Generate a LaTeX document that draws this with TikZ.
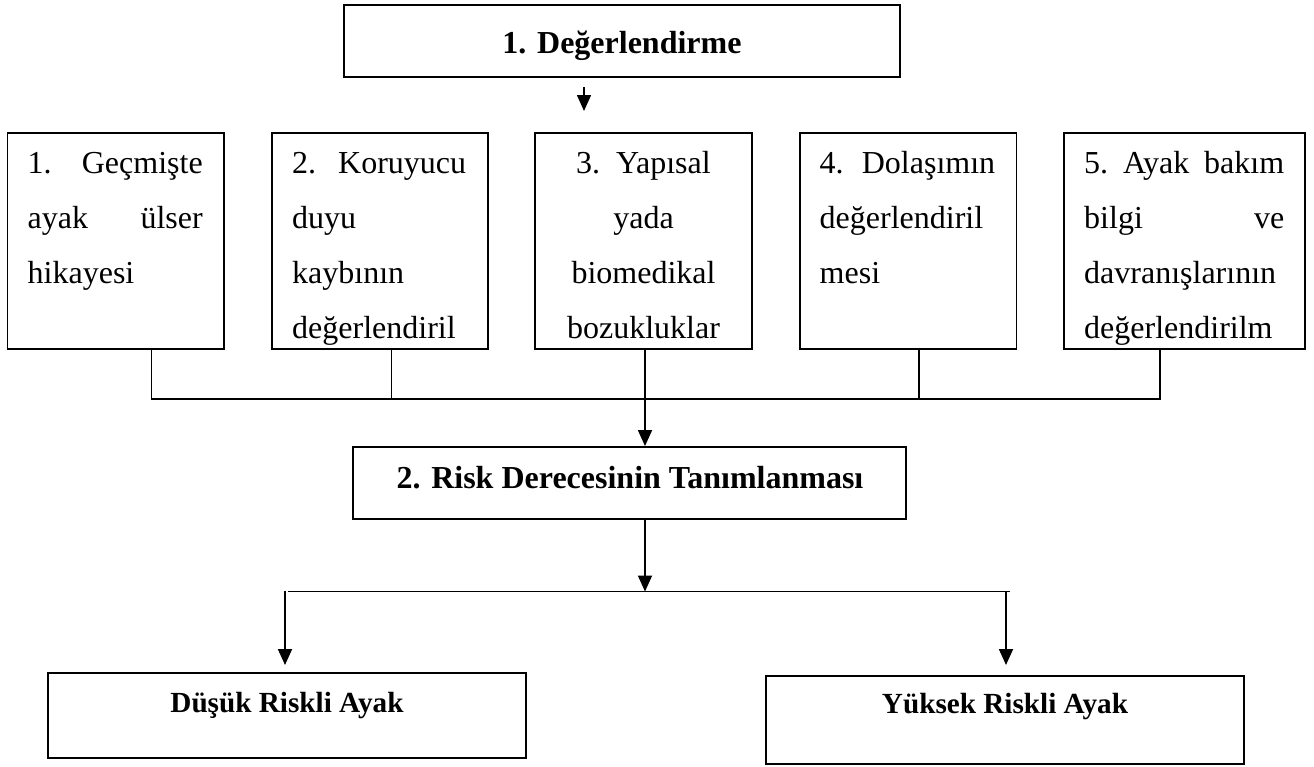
\documentclass[tikz,border=0pt]{standalone}
\usepackage{fontspec}
\setmainfont{Liberation Serif}
\usetikzlibrary{arrows.meta,calc}
\begin{document}
\begin{tikzpicture}[x=1pt,y=-1pt,
  box/.style={draw, line width=1.3pt, inner sep=0pt},
  tbox/.style={draw, line width=1.9pt, inner sep=0pt},
  btext/.style={font=\fontsize{32}{38}\selectfont\bfseries, inner sep=0pt, anchor=base},
  ltext/.style={font=\fontsize{29.2}{35}\selectfont\bfseries, inner sep=0pt, anchor=base},
  ptext/.style={font=\fontsize{32}{55}\selectfont, inner sep=0pt, anchor=base west, align=left},
  ctext/.style={font=\fontsize{32}{55}\selectfont, inner sep=0pt, anchor=base, align=center},
  conn/.style={line width=1.1pt},
  hconn/.style={line width=1.6pt},
  arr/.style={line width=1.8pt, -{Triangle[width=14pt,length=16pt]}},
]
\useasboundingbox (0,0) rectangle (1314,766);

% top box
\node[tbox, minimum width=556pt, minimum height=72pt] (top) at (622,41) {};
\node[btext] (ttop) at (622,53) {1. Değerlendirme};

% small arrow
\coordinate (a0s) at (584,87);
\coordinate (a0e) at (584,111);
\draw[arr, line width=1.6pt] (a0s) -- (a0e);

% row of five boxes
\node[box, minimum width=216.4pt, minimum height=216pt] (b1) at (115.8,241) {};
\node[box, minimum width=216pt, minimum height=216pt] (b2) at (380,241) {};
\node[box, minimum width=217pt, minimum height=216pt] (b3) at (643.5,241) {};
\node[box, minimum width=216.5pt, minimum height=216pt] (b4) at (908.25,241) {};
\node[box, minimum width=241pt, minimum height=216pt] (b5) at (1184.5,241) {};

\node[ptext, text width=175pt] (t1) at (27.5,173) {1.\hfill Geçmişte\\ ayak\hfill ülser\\ hikayesi};
\node[ptext, text width=174pt] (t2) at (292,173) {2.\hfill Koruyucu\\ duyu\\ kaybının\\ değerlendiril};
\node[ctext, text width=217pt] (t3) at (643.5,173) {3. Yapısal\\ yada\\ biomedikal\\ bozukluklar};
\node[ptext, text width=175.5pt] (t4) at (819.5,173) {4.\hfill Dolaşımın\\ değerlendiril\\ mesi};
\node[ptext, text width=200pt] (t5) at (1084,173) {5.\hfill Ayak\hfill bakım\\ bilgi\hfill ve\\ davranışlarının\\ değerlendirilm};

% joins
\coordinate (j1) at (151.5,399);
\coordinate (j2) at (391.5,399);
\coordinate (j3) at (645,399);
\coordinate (j4) at (919,399);
\coordinate (j5) at (1160,399);
\draw[conn] (b1.south -| j1) -- (j1) -- (j5) -- (b5.south -| j5);
\draw[conn] (b2.south -| j2) -- (j2);
\draw[conn] (b4.south -| j4) -- (j4);

% risk box
\node[tbox, minimum width=553pt, minimum height=72pt] (risk) at (629.5,483) {};
\node[btext] (trisk) at (630,488) {2. Risk Derecesinin Tanımlanması};
\draw[arr] (b3.south -| j3) -- (j3 |- risk.north);

% split
\coordinate (k0) at (645,591.5);
\coordinate (kL) at (288,591.5);
\coordinate (kR) at (1010,591.5);
\coordinate (aL) at (285,591);
\coordinate (aR) at (1006,591);
\coordinate (eL) at (285,665);
\coordinate (eR) at (1006,665);
\draw[arr] (risk.south -| k0) -- (k0);
\draw[hconn] (kL) -- (kR);
\draw[arr] (aL) -- (eL);
\draw[arr] (aR) -- (eR);

% bottom boxes
\node[tbox, minimum width=478pt, minimum height=85pt] (low) at (287,715.5) {};
\node[ltext] (tlow) at (287,712) {Düşük Riskli Ayak};
\node[tbox, minimum width=478pt, minimum height=88pt] (high) at (1005,720) {};
\node[ltext] (thigh) at (1005,713) {Yüksek Riskli Ayak};
\end{tikzpicture}
\end{document}
